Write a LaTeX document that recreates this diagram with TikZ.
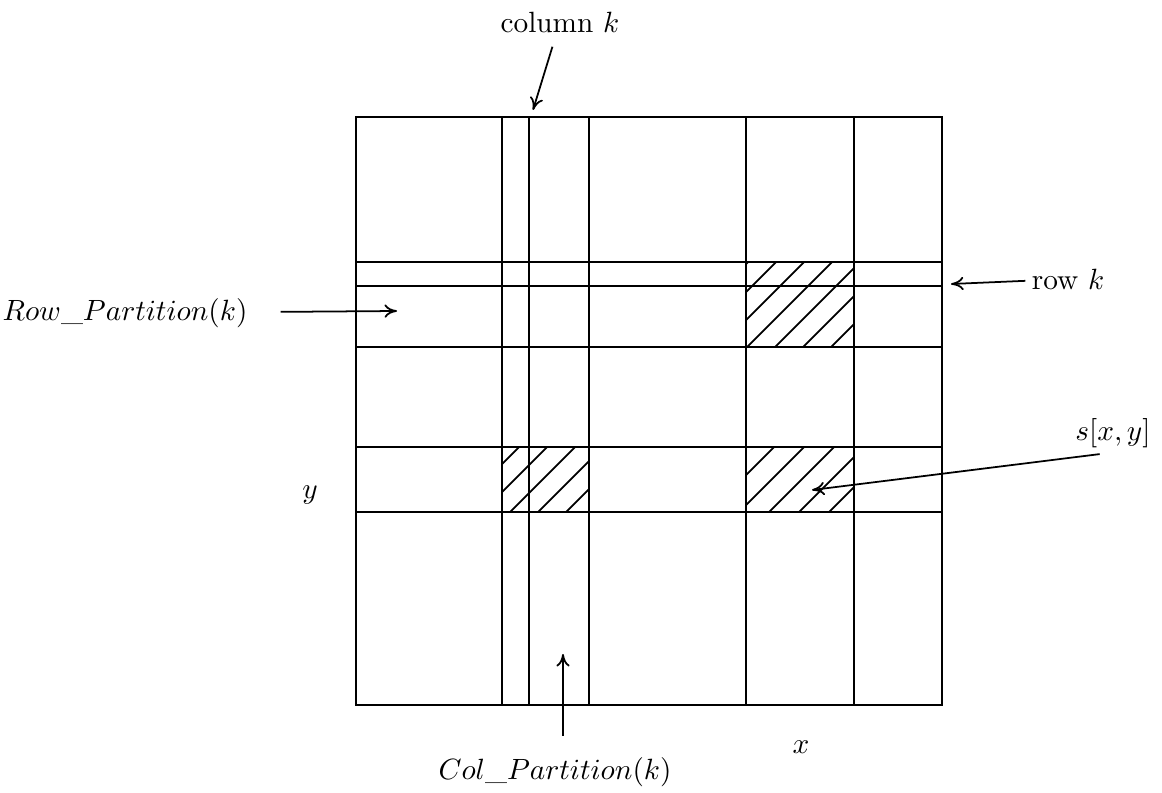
\documentclass[tikz,border=0pt]{standalone}
\usetikzlibrary{arrows.meta, positioning, calc}
\tikzset{
  gridline/.style={line width=0.7pt},
  hatchline/.style={line width=0.6pt},
  ptrarr/.style={-{To[length=1.5mm, width=1.6mm]}, line width=0.6pt},
  lbl/.style={inner sep=2pt, font=\normalsize},
}

\begin{document}
\begin{tikzpicture}[x=0.12mm, y=-0.12mm]
    \useasboundingbox (0,0) rectangle (1162,792);
    % hatched blocks
    \begin{scope}
      \clip (746,262) rectangle (854,347);
      \foreach \a in {663,691,...,831} \draw[hatchline] (\a,347) -- ++(100,-100);
    \end{scope}
    \begin{scope}
      \clip (502,447) rectangle (589,512);
      \foreach \a in {454,482,...,566} \draw[hatchline] (\a,512) -- ++(80,-80);
    \end{scope}
    \begin{scope}
      \clip (746,447) rectangle (854,512);
      \foreach \a in {709,739,...,829} \draw[hatchline] (\a,512) -- ++(80,-80);
    \end{scope}
    % the grid
    \draw[gridline] (356,117) rectangle (942,705);
    \foreach \gx in {502,529,589,746,854} \draw[gridline] (\gx,117) -- (\gx,705);
    \foreach \gy in {262,286,347,447,512} \draw[gridline] (356,\gy) -- (942,\gy);
    % labels
    \node[lbl] (colk) at (560,22) {column $k$};
    \node[lbl] (rowk) at (1068,279) {row $k$};
    \node[lbl] (rowpart) at (125,313) {$Row\_Partition(k)$};
    \node[lbl] (sxy) at (1113,433) {$s[x,y]$};
    \node[lbl] (ylbl) at (310,495) {$y$};
    \node[lbl] (colpart) at (555,772) {$Col\_Partition(k)$};
    \node[lbl] (xlbl) at (801,747) {$x$};
    % pointers
    \coordinate (colktip) at (533,110);
    \coordinate (rowktip) at (951,284);
    \coordinate (rptip) at (397,311);
    \coordinate (sxytip) at (812,490);
    \coordinate (cptip) at (563,654);
    \draw[ptrarr, shorten <=1mm] (colk) -- (colktip);
    \draw[ptrarr] (rowk) -- (rowktip);
    \draw[ptrarr, shorten <=3.2mm] (rowpart) -- (rptip);
    \draw[ptrarr] ([xshift=-1.6mm]sxy.south) -- (sxytip);
    \draw[ptrarr, shorten <=1.8mm] (colpart.north -| cptip) -- (cptip);
  \end{tikzpicture}
\end{document}
